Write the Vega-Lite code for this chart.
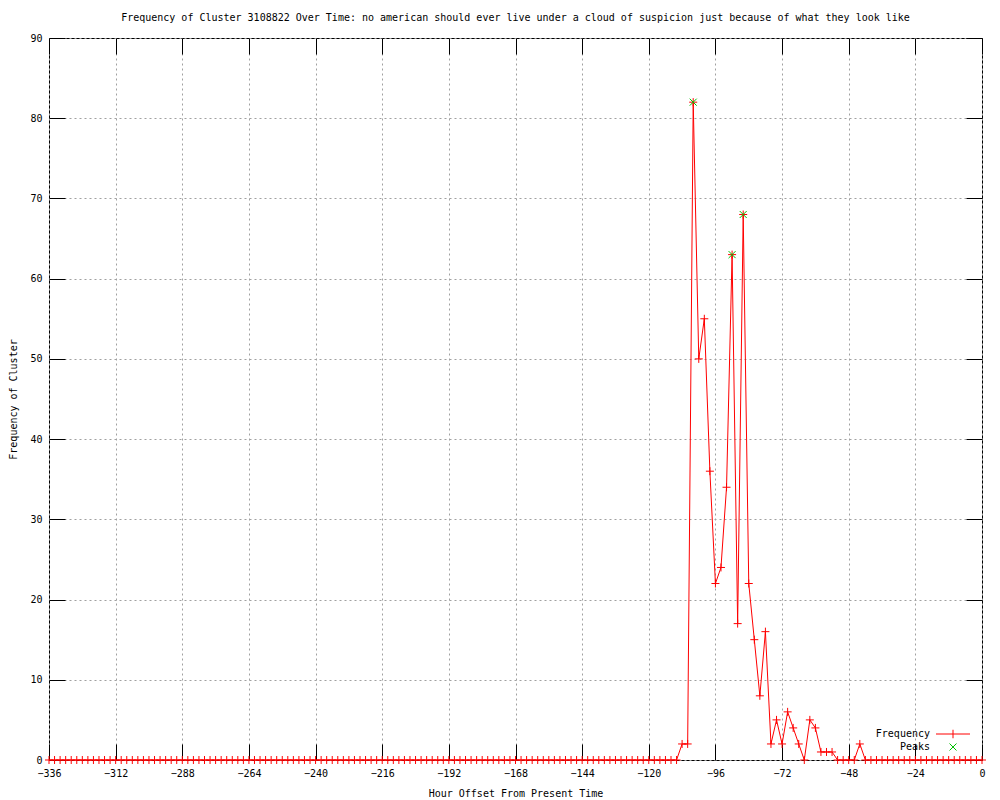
{
  "$schema": "https://vega.github.io/schema/vega-lite/v6.json",
  "width": 933,
  "height": 722,
  "autosize": {"type": "none"},
  "padding": {"left": 49, "top": 38, "right": 18, "bottom": 40},
  "background": "#ffffff",
  "title": {
    "text": "Frequency of Cluster 3108822 Over Time: no american should ever live under a cloud of suspicion just because of what they look like",
    "font": "DejaVu Sans Mono",
    "fontSize": 10,
    "fontWeight": "normal",
    "color": "#000000",
    "anchor": "middle",
    "offset": 10
  },
  "config": {
    "view": {"stroke": "#000000", "strokeWidth": 1},
    "axis": {
      "labelFont": "DejaVu Sans Mono",
      "labelFontSize": 10,
      "labelColor": "#000000",
      "titleFont": "DejaVu Sans Mono",
      "titleFontSize": 10,
      "titleFontWeight": "normal",
      "titleColor": "#000000",
      "tickColor": "#000000",
      "gridColor": "#a0a0a0",
      "gridDash": [2, 3],
      "gridWidth": 1,
      "domain": false
    }
  },
  "datasets": {
    "freq": [
      {"hour": -336, "frequency": 0}, {"hour": -334, "frequency": 0}, {"hour": -332, "frequency": 0}, {"hour": -330, "frequency": 0},
      {"hour": -328, "frequency": 0}, {"hour": -326, "frequency": 0}, {"hour": -324, "frequency": 0}, {"hour": -322, "frequency": 0},
      {"hour": -320, "frequency": 0}, {"hour": -318, "frequency": 0}, {"hour": -316, "frequency": 0}, {"hour": -314, "frequency": 0},
      {"hour": -312, "frequency": 0}, {"hour": -310, "frequency": 0}, {"hour": -308, "frequency": 0}, {"hour": -306, "frequency": 0},
      {"hour": -304, "frequency": 0}, {"hour": -302, "frequency": 0}, {"hour": -300, "frequency": 0}, {"hour": -298, "frequency": 0},
      {"hour": -296, "frequency": 0}, {"hour": -294, "frequency": 0}, {"hour": -292, "frequency": 0}, {"hour": -290, "frequency": 0},
      {"hour": -288, "frequency": 0}, {"hour": -286, "frequency": 0}, {"hour": -284, "frequency": 0}, {"hour": -282, "frequency": 0},
      {"hour": -280, "frequency": 0}, {"hour": -278, "frequency": 0}, {"hour": -276, "frequency": 0}, {"hour": -274, "frequency": 0},
      {"hour": -272, "frequency": 0}, {"hour": -270, "frequency": 0}, {"hour": -268, "frequency": 0}, {"hour": -266, "frequency": 0},
      {"hour": -264, "frequency": 0}, {"hour": -262, "frequency": 0}, {"hour": -260, "frequency": 0}, {"hour": -258, "frequency": 0},
      {"hour": -256, "frequency": 0}, {"hour": -254, "frequency": 0}, {"hour": -252, "frequency": 0}, {"hour": -250, "frequency": 0},
      {"hour": -248, "frequency": 0}, {"hour": -246, "frequency": 0}, {"hour": -244, "frequency": 0}, {"hour": -242, "frequency": 0},
      {"hour": -240, "frequency": 0}, {"hour": -238, "frequency": 0}, {"hour": -236, "frequency": 0}, {"hour": -234, "frequency": 0},
      {"hour": -232, "frequency": 0}, {"hour": -230, "frequency": 0}, {"hour": -228, "frequency": 0}, {"hour": -226, "frequency": 0},
      {"hour": -224, "frequency": 0}, {"hour": -222, "frequency": 0}, {"hour": -220, "frequency": 0}, {"hour": -218, "frequency": 0},
      {"hour": -216, "frequency": 0}, {"hour": -214, "frequency": 0}, {"hour": -212, "frequency": 0}, {"hour": -210, "frequency": 0},
      {"hour": -208, "frequency": 0}, {"hour": -206, "frequency": 0}, {"hour": -204, "frequency": 0}, {"hour": -202, "frequency": 0},
      {"hour": -200, "frequency": 0}, {"hour": -198, "frequency": 0}, {"hour": -196, "frequency": 0}, {"hour": -194, "frequency": 0},
      {"hour": -192, "frequency": 0}, {"hour": -190, "frequency": 0}, {"hour": -188, "frequency": 0}, {"hour": -186, "frequency": 0},
      {"hour": -184, "frequency": 0}, {"hour": -182, "frequency": 0}, {"hour": -180, "frequency": 0}, {"hour": -178, "frequency": 0},
      {"hour": -176, "frequency": 0}, {"hour": -174, "frequency": 0}, {"hour": -172, "frequency": 0}, {"hour": -170, "frequency": 0},
      {"hour": -168, "frequency": 0}, {"hour": -166, "frequency": 0}, {"hour": -164, "frequency": 0}, {"hour": -162, "frequency": 0},
      {"hour": -160, "frequency": 0}, {"hour": -158, "frequency": 0}, {"hour": -156, "frequency": 0}, {"hour": -154, "frequency": 0},
      {"hour": -152, "frequency": 0}, {"hour": -150, "frequency": 0}, {"hour": -148, "frequency": 0}, {"hour": -146, "frequency": 0},
      {"hour": -144, "frequency": 0}, {"hour": -142, "frequency": 0}, {"hour": -140, "frequency": 0}, {"hour": -138, "frequency": 0},
      {"hour": -136, "frequency": 0}, {"hour": -134, "frequency": 0}, {"hour": -132, "frequency": 0}, {"hour": -130, "frequency": 0},
      {"hour": -128, "frequency": 0}, {"hour": -126, "frequency": 0}, {"hour": -124, "frequency": 0}, {"hour": -122, "frequency": 0},
      {"hour": -120, "frequency": 0}, {"hour": -118, "frequency": 0}, {"hour": -116, "frequency": 0}, {"hour": -114, "frequency": 0},
      {"hour": -112, "frequency": 0}, {"hour": -110, "frequency": 0}, {"hour": -108, "frequency": 2}, {"hour": -106, "frequency": 2},
      {"hour": -104, "frequency": 82}, {"hour": -102, "frequency": 50}, {"hour": -100, "frequency": 55}, {"hour": -98, "frequency": 36},
      {"hour": -96, "frequency": 22}, {"hour": -94, "frequency": 24}, {"hour": -92, "frequency": 34}, {"hour": -90, "frequency": 63},
      {"hour": -88, "frequency": 17}, {"hour": -86, "frequency": 68}, {"hour": -84, "frequency": 22}, {"hour": -82, "frequency": 15},
      {"hour": -80, "frequency": 8}, {"hour": -78, "frequency": 16}, {"hour": -76, "frequency": 2}, {"hour": -74, "frequency": 5},
      {"hour": -72, "frequency": 2}, {"hour": -70, "frequency": 6}, {"hour": -68, "frequency": 4}, {"hour": -66, "frequency": 2},
      {"hour": -64, "frequency": 0}, {"hour": -62, "frequency": 5}, {"hour": -60, "frequency": 4}, {"hour": -58, "frequency": 1},
      {"hour": -56, "frequency": 1}, {"hour": -54, "frequency": 1}, {"hour": -52, "frequency": 0}, {"hour": -50, "frequency": 0},
      {"hour": -48, "frequency": 0}, {"hour": -46, "frequency": 0}, {"hour": -44, "frequency": 2}, {"hour": -42, "frequency": 0},
      {"hour": -40, "frequency": 0}, {"hour": -38, "frequency": 0}, {"hour": -36, "frequency": 0}, {"hour": -34, "frequency": 0},
      {"hour": -32, "frequency": 0}, {"hour": -30, "frequency": 0}, {"hour": -28, "frequency": 0}, {"hour": -26, "frequency": 0},
      {"hour": -24, "frequency": 0}, {"hour": -22, "frequency": 0}, {"hour": -20, "frequency": 0}, {"hour": -18, "frequency": 0},
      {"hour": -16, "frequency": 0}, {"hour": -14, "frequency": 0}, {"hour": -12, "frequency": 0}, {"hour": -10, "frequency": 0},
      {"hour": -8, "frequency": 0}, {"hour": -6, "frequency": 0}, {"hour": -4, "frequency": 0}, {"hour": -2, "frequency": 0},
      {"hour": 0, "frequency": 0}
    ],
    "peaks": [
      {"hour": -104, "frequency": 82},
      {"hour": -90, "frequency": 63},
      {"hour": -86, "frequency": 68}
    ]
  },
  "resolve": {"axis": {"x": "independent", "y": "independent"}},
  "layer": [
    {
      "data": {"name": "freq"},
      "mark": {"type": "line", "strokeWidth": 1, "interpolate": "linear"},
      "encoding": {
        "x": {
          "field": "hour", "type": "quantitative",
          "scale": {"domain": [-336, 0], "nice": false, "zero": false},
          "axis": {
            "orient": "bottom",
            "values": [-336, -312, -288, -264, -240, -216, -192, -168, -144, -120, -96, -72, -48, -24, 0],
            "title": "Hour Offset From Present Time",
            "titlePadding": 10,
            "grid": true,
            "tickSize": -16,
            "labelPadding": 24,
            "labelFlush": false
          }
        },
        "y": {
          "field": "frequency", "type": "quantitative",
          "scale": {"domain": [0, 90], "nice": false},
          "axis": {
            "orient": "left",
            "values": [0, 10, 20, 30, 40, 50, 60, 70, 80, 90],
            "title": "Frequency of Cluster",
            "titlePadding": 11,
            "grid": true,
            "tickSize": -16,
            "labelPadding": 23
          }
        },
        "color": {
          "datum": "Frequency", "type": "nominal",
          "scale": {"domain": ["Frequency", "Peaks"], "range": ["#ff0000", "#00c000"]},
          "legend": {
            "title": null,
            "orient": "none",
            "legendX": 899,
            "legendY": 691,
            "labelFont": "DejaVu Sans Mono",
            "labelFontSize": 10,
            "labelColor": "#000000",
            "labelAlign": "right",
            "labelOffset": -28,
            "symbolSize": 100,
            "rowPadding": 0,
            "encoding": {
              "symbols": {
                "shape": {"value": {"expr": "datum.value === 'Frequency' ? 'M-1,0L1,0M0,-0.25L0,0.25' : 'M-1,-1L1,1M-1,1L1,-1'"}},
                "size": {"value": {"expr": "datum.value === 'Frequency' ? 1156 : 49"}},
                "fill": {"value": "transparent"},
                "strokeWidth": {"value": 1}
              }
            }
          }
        }
      }
    },
    {
      "data": {"name": "freq"},
      "mark": {"type": "point", "shape": "M-1,0L1,0M0,-1L0,1", "size": 64, "filled": false, "stroke": "#ff0000", "strokeWidth": 1, "opacity": 1},
      "encoding": {
        "x": {
          "field": "hour", "type": "quantitative",
          "axis": {
            "orient": "top",
            "values": [-336, -312, -288, -264, -240, -216, -192, -168, -144, -120, -96, -72, -48, -24, 0],
            "labels": false, "title": null, "grid": false, "tickSize": -16
          }
        },
        "y": {
          "field": "frequency", "type": "quantitative",
          "axis": {
            "orient": "right",
            "values": [0, 10, 20, 30, 40, 50, 60, 70, 80, 90],
            "labels": false, "title": null, "grid": false, "tickSize": -16
          }
        }
      }
    },
    {
      "data": {"name": "peaks"},
      "mark": {"type": "point", "shape": "M-1,-1L1,1M-1,1L1,-1", "size": 49, "filled": false, "strokeWidth": 1, "opacity": 1},
      "encoding": {
        "x": {"field": "hour", "type": "quantitative", "axis": null},
        "y": {"field": "frequency", "type": "quantitative", "axis": null},
        "color": {"datum": "Peaks", "type": "nominal"}
      }
    }
  ]
}
